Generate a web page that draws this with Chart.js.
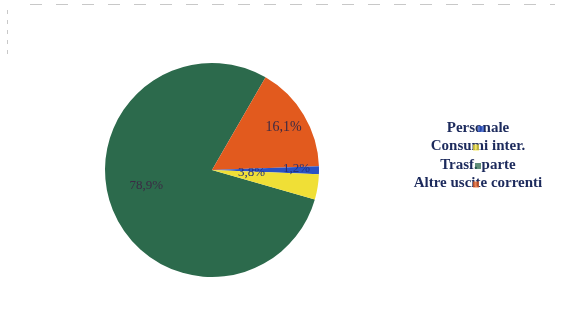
<!DOCTYPE html>
<html>
<head>
<meta charset="utf-8">
<script src="https://cdn.jsdelivr.net/npm/chart.js@4/dist/chart.umd.min.js"></script>
<style>
  body { margin: 0; background: #fff; }
  #wrap { width: 563px; height: 324px; position: relative; }
</style>
</head>
<body>
<div id="wrap"><canvas id="pieChart" width="563" height="324"></canvas></div>
<script>
// dati della torta
const categories = ['Personale', 'Consumi inter.', 'Trasf. parte', 'Altre uscite correnti'];
const values = [78.9, 16.1, 1.2, 3.8];
const valueLabels = ['78,9%', '16,1%', '1,2%', '3,8%'];
const colors = ['#2c6a4c', '#e25a1e', '#2a52c4', '#f0df36'];

// etichette percentuali dentro le fette
const sliceLabels = {
  id: 'sliceLabels',
  afterDatasetsDraw(chart) {
    const ctx = chart.ctx;
    const arcs = chart.getDatasetMeta(0).data;
    const factors = [0.63, 0.78, 0.79, 0.37];
    const shift = [9, 0, -1, -6];
    ctx.save();
    ctx.textAlign = 'center';
    ctx.textBaseline = 'middle';
    arcs.forEach((arc, i) => {
      const p = arc.getProps(['x', 'y', 'startAngle', 'endAngle', 'outerRadius'], true);
      const mid = (p.startAngle + p.endAngle) / 2 + shift[i] * Math.PI / 180;
      const r = p.outerRadius * factors[i];
      ctx.font = (i === 1 ? '14px' : '13px') + ' "Liberation Serif", serif';
      ctx.fillStyle = i >= 2 ? '#22307a' : '#3b2a44';
      ctx.fillText(valueLabels[i], p.x + Math.cos(mid) * r, p.y + Math.sin(mid) * r);
    });
    ctx.restore();
  }
};

// legenda a destra, testo centrato
const sideLegend = {
  id: 'sideLegend',
  afterDraw(chart) {
    const ctx = chart.ctx;
    ctx.save();
    ctx.font = 'bold 15px "Liberation Serif", serif';
    ctx.textAlign = 'center';
    ctx.textBaseline = 'middle';
    const cx = 478, y0 = 128, step = 18.5;
    const boxX = [481, 476, 478, 476];
    const order = [2, 3, 0, 1];
    categories.forEach((c, i) => {
      ctx.fillStyle = '#1c2a5c';
      ctx.fillText(c, cx, y0 + i * step);
      ctx.fillStyle = colors[order[i]];
      ctx.globalAlpha = 0.75;
      ctx.fillRect(boxX[i] - 3, y0 + i * step - 2, 6, 6);
      ctx.globalAlpha = 1;
    });
    // bordo tratteggiato della scansione
    ctx.strokeStyle = '#c8c8c8';
    ctx.setLineDash([12, 14]);
    ctx.beginPath();
    ctx.moveTo(30, 4.5);
    ctx.lineTo(555, 4.5);
    ctx.stroke();
    ctx.setLineDash([4, 6]);
    ctx.beginPath();
    ctx.moveTo(7.5, 10);
    ctx.lineTo(7.5, 60);
    ctx.stroke();
    ctx.restore();
  }
};

new Chart(document.getElementById('pieChart'), {
  type: 'pie',
  data: {
    labels: categories,
    datasets: [{
      data: values,
      backgroundColor: colors,
      borderWidth: 0
    }]
  },
  options: {
    responsive: false,
    animation: false,
    devicePixelRatio: 1,
    rotation: 106,
    layout: { padding: { left: 105, right: 244, top: 63, bottom: 47 } },
    plugins: {
      legend: { display: false },
      tooltip: { enabled: false }
    }
  },
  plugins: [sliceLabels, sideLegend]
});
</script>
</body>
</html>
